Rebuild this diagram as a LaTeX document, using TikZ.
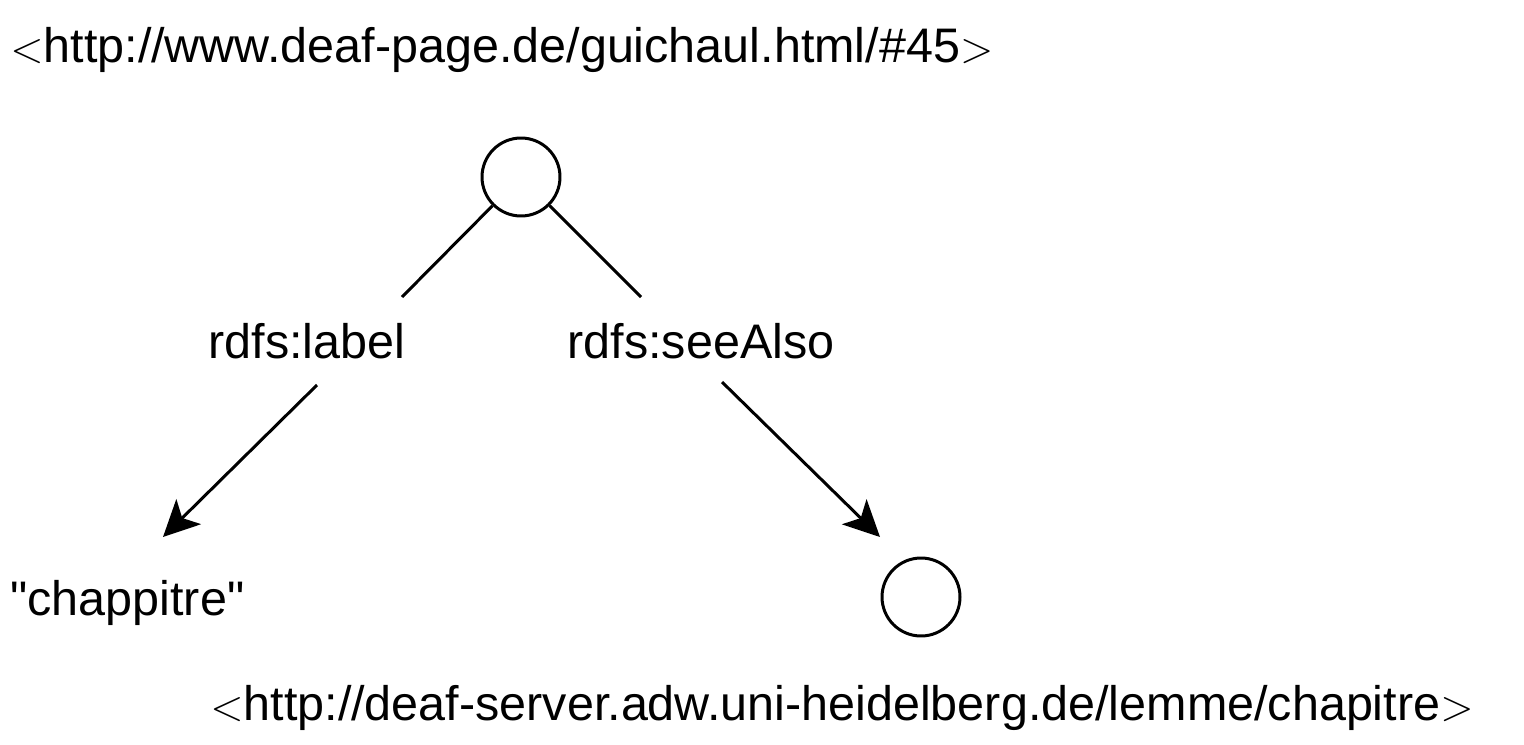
\documentclass[tikz,border=0pt]{standalone}
\usepackage{fontspec}
\setmainfont{Liberation Sans}[Ligatures=TeXOff]
\usetikzlibrary{arrows.meta}

\tikzset{
    res/.style={circle,draw,line width=1.7pt,minimum size=1.56cm,inner sep=0pt},
    txt/.style={anchor=base west,inner sep=0pt,font=\fontsize{27.6}{33}\selectfont},
    prop/.style={anchor=base,inner sep=0pt,font=\fontsize{27.6}{33}\selectfont},
    edge/.style={line width=1.7pt},
    arc/.style={line width=1.7pt,-{Stealth[length=0.72cm,width=0.7cm,inset=0.18cm]}}
}

\begin{document}
\begin{tikzpicture}[x=0.02cm,y=-0.02cm]
        \useasboundingbox (0,0) rectangle (1524,744);

        \node[res] at (521,177) (s) {};
        \node[res] at (921,597) (o) {};

        \node[txt] at (10,62)   (suri) {$<$http://www.deaf-page.de/guichaul.html/\#45$>$};
        \node[txt] at (210,720) (ouri) {$<$http://deaf-server.adw.uni-heidelberg.de/lemme/chapitre$>$};
        \node[txt] at (10,615)  (lit)  {"chappitre"};

        \node[prop] at (307,358) (lbl) {rdfs:label};
        \node[prop] at (701,358) (see) {rdfs:seeAlso};

        \coordinate (lbl-in)  at (402,297);
        \coordinate (see-in)  at (641,297);
        \coordinate (lbl-out) at (317,385);
        \coordinate (see-out) at (722,382);
        \coordinate (lit-in)  at (163,537);
        \coordinate (o-in)    at (880,537);

        \draw[edge] (s) -- (lbl-in);
        \draw[edge] (s) -- (see-in);
        \draw[arc] (lbl-out) -- (lit-in);
        \draw[arc] (see-out) -- (o-in);
    \end{tikzpicture}
\end{document}
